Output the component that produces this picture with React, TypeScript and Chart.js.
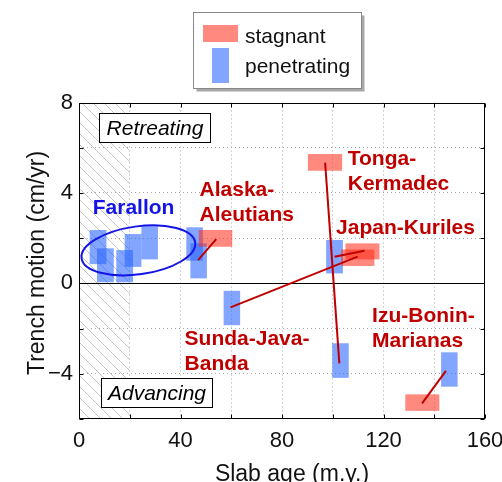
import React, { useEffect, useRef } from "react";
import { Chart, registerables } from "chart.js";

Chart.register(...registerables);

const FONT = '"Liberation Sans", Arial, Helvetica, sans-serif';

// Axis ticks
const xGridValues = [0, 20, 40, 60, 80, 100, 120, 140, 160];
const xLabeledTicks = [0, 40, 80, 120, 160];
const yGridValues = [-6, -4, -2, 0, 2, 4, 6, 8];
const yLabeledTicks = [-4, 0, 4, 8];

// Penetrating slabs (blue): slab age range (m.y.) and trench motion range (cm/yr)
const penetratingAgeMin = [4.2, 7.1, 14.7, 18.0, 24.6, 42.3, 43.9, 57.0, 97.4, 99.8, 142.7];
const penetratingAgeMax = [10.8, 13.7, 21.3, 24.6, 31.1, 48.8, 50.4, 63.5, 104.0, 106.3, 149.2];
const penetratingMotionMin = [0.85, 0.05, 0.05, 0.73, 1.06, 1.0, 0.22, -1.85, 0.44, -4.18, -4.57];
const penetratingMotionMax = [2.36, 1.55, 1.47, 2.18, 2.53, 2.48, 1.77, -0.33, 1.92, -2.65, -3.05];

// Stagnant slabs (red)
const stagnantAgeMin = [47.2, 90.2, 105.0, 103.3, 128.6];
const stagnantAgeMax = [60.4, 103.7, 118.4, 116.4, 142.0];
const stagnantMotionMin = [1.62, 4.98, 1.06, 0.77, -5.64];
const stagnantMotionMax = [2.36, 5.72, 1.77, 1.5, -4.91];

// Links between penetrating and stagnant states of the same trench
const linkAgeFrom = [46.9, 97.0, 100.7, 59.7, 135.2];
const linkMotionFrom = [1.03, 5.34, 1.18, -1.06, -5.31];
const linkAgeTo = [54.1, 102.6, 112.5, 109.8, 144.6];
const linkMotionTo = [1.96, -3.54, 1.44, 1.18, -3.87];

// Region labels (anchor = first line baseline, in data units)
const regionNames = [
  ["Alaska-", "Aleutians"],
  ["Tonga-", "Kermadec"],
  ["Japan-Kuriles"],
  ["Sunda-Java-", "Banda"],
  ["Izu-Bonin-", "Marianas"],
];
const regionAge = [47.5, 105.9, 101.3, 41.6, 115.5];
const regionMotion = [3.86, 5.23, 2.18, -2.73, -1.7];

const farallonName = "Farallon";
const farallonAge = 5.4;
const farallonMotion = 3.07;
const farallonEllipseCenter = [23.4, 1.46];
const farallonEllipseRadii = [22.6, 1.06];

// Regime boxes
const regimeNames = ["Retreating", "Advancing"];
const regimeAgeMin = [7.8, 8.5];
const regimeAgeMax = [51.7, 52.5];
const regimeMotionMin = [6.24, -5.49];
const regimeMotionMax = [7.52, -4.2];

const hatchAgeMax = 20;

const BLUE_FILL = "rgba(40,100,255,0.58)";
const RED_FILL = "rgba(255,40,20,0.55)";
const DARK_RED = "#C00000";
const FARALLON_BLUE = "#1414E6";

const fmt = (v: number) => (v < 0 ? "\u2212" + Math.abs(v) : String(v));

export default function App() {
  const ref = useRef<HTMLCanvasElement>(null);

  useEffect(() => {
    document.body.style.margin = "0";
    const canvas = ref.current!;

    const drawPlugin = {
      id: "slabDecor",
      beforeDatasetsDraw(chart: any) {
        const { ctx, chartArea, scales } = chart;
        const xs = scales.x;
        const ys = scales.y;
        // hatch
        ctx.save();
        const hx0 = xs.getPixelForValue(0);
        const hx1 = xs.getPixelForValue(hatchAgeMax);
        ctx.beginPath();
        ctx.rect(hx0, chartArea.top, hx1 - hx0, chartArea.bottom - chartArea.top);
        ctx.clip();
        ctx.strokeStyle = "#c4c4c4";
        ctx.lineWidth = 1;
        ctx.beginPath();
        const h = chartArea.bottom - chartArea.top;
        for (let s = hx0 - h; s < hx1 + 12; s += 11) {
          ctx.moveTo(s, chartArea.top);
          ctx.lineTo(s + h, chartArea.bottom);
        }
        ctx.stroke();
        ctx.restore();

        // zero line
        ctx.save();
        ctx.strokeStyle = "#000";
        ctx.lineWidth = 1;
        const y0 = Math.round(ys.getPixelForValue(0)) + 0.5;
        ctx.beginPath();
        ctx.moveTo(chartArea.left, y0);
        ctx.lineTo(chartArea.right, y0);
        ctx.stroke();
        ctx.restore();

        // rects
        ctx.save();
        ctx.fillStyle = BLUE_FILL;
        for (let i = 0; i < penetratingAgeMin.length; i++) {
          const x0 = xs.getPixelForValue(penetratingAgeMin[i]);
          const x1 = xs.getPixelForValue(penetratingAgeMax[i]);
          const y1 = ys.getPixelForValue(penetratingMotionMax[i]);
          const y2 = ys.getPixelForValue(penetratingMotionMin[i]);
          ctx.fillRect(x0, y1, x1 - x0, y2 - y1);
        }
        ctx.fillStyle = RED_FILL;
        for (let i = 0; i < stagnantAgeMin.length; i++) {
          const x0 = xs.getPixelForValue(stagnantAgeMin[i]);
          const x1 = xs.getPixelForValue(stagnantAgeMax[i]);
          const y1 = ys.getPixelForValue(stagnantMotionMax[i]);
          const y2 = ys.getPixelForValue(stagnantMotionMin[i]);
          ctx.fillRect(x0, y1, x1 - x0, y2 - y1);
        }
        ctx.restore();

        // Farallon ellipse
        ctx.save();
        const cx = xs.getPixelForValue(farallonEllipseCenter[0]);
        const cy = ys.getPixelForValue(farallonEllipseCenter[1]);
        const rx = xs.getPixelForValue(farallonEllipseCenter[0] + farallonEllipseRadii[0]) - cx;
        const ry = cy - ys.getPixelForValue(farallonEllipseCenter[1] + farallonEllipseRadii[1]);
        ctx.strokeStyle = FARALLON_BLUE;
        ctx.lineWidth = 2;
        ctx.beginPath();
        ctx.ellipse(cx, cy, rx, ry, (-8 * Math.PI) / 180, 0, Math.PI * 2);
        ctx.stroke();
        ctx.restore();
      },
      afterDatasetsDraw(chart: any) {
        const { ctx, scales } = chart;
        const xs = scales.x;
        const ys = scales.y;
        ctx.save();
        ctx.textBaseline = "alphabetic";
        ctx.textAlign = "left";
        ctx.font = `bold 21px ${FONT}`;
        ctx.fillStyle = DARK_RED;
        for (let i = 0; i < regionNames.length; i++) {
          const x = xs.getPixelForValue(regionAge[i]);
          const y = ys.getPixelForValue(regionMotion[i]);
          regionNames[i].forEach((t, k) => ctx.fillText(t, x, y + k * 25));
        }
        ctx.fillStyle = FARALLON_BLUE;
        ctx.fillText(farallonName, xs.getPixelForValue(farallonAge), ys.getPixelForValue(farallonMotion));

        // regime boxes
        ctx.font = `italic 21px ${FONT}`;
        ctx.textAlign = "center";
        ctx.textBaseline = "middle";
        for (let i = 0; i < regimeNames.length; i++) {
          const x0 = Math.round(xs.getPixelForValue(regimeAgeMin[i])) + 0.5;
          const x1 = Math.round(xs.getPixelForValue(regimeAgeMax[i])) + 0.5;
          const y0 = Math.round(ys.getPixelForValue(regimeMotionMax[i])) + 0.5;
          const y1 = Math.round(ys.getPixelForValue(regimeMotionMin[i])) + 0.5;
          ctx.fillStyle = "#fff";
          ctx.fillRect(x0, y0, x1 - x0, y1 - y0);
          ctx.strokeStyle = "#000";
          ctx.lineWidth = 1;
          ctx.strokeRect(x0, y0, x1 - x0, y1 - y0);
          ctx.fillStyle = "#000";
          ctx.fillText(regimeNames[i], (x0 + x1) / 2, (y0 + y1) / 2 + 1);
        }
        ctx.restore();
      },
      afterDraw(chart: any) {
        const { ctx, chartArea, scales } = chart;
        const xs = scales.x;
        const ys = scales.y;
        const L = Math.round(chartArea.left) + 0.5;
        const R = Math.round(chartArea.right) - 0.5;
        const T = Math.round(chartArea.top) + 0.5;
        const B = Math.round(chartArea.bottom) - 0.5;
        ctx.save();
        ctx.strokeStyle = "#000";
        ctx.lineWidth = 1;
        ctx.strokeRect(L, T, R - L, B - T);
        ctx.beginPath();
        xGridValues.forEach((v) => {
          const x = Math.round(xs.getPixelForValue(v)) + 0.5;
          ctx.moveTo(x, B);
          ctx.lineTo(x, B - 4);
          ctx.moveTo(x, T);
          ctx.lineTo(x, T + 4);
        });
        yGridValues.forEach((v) => {
          const y = Math.round(ys.getPixelForValue(v)) + 0.5;
          ctx.moveTo(L, y);
          ctx.lineTo(L + 4, y);
          ctx.moveTo(R, y);
          ctx.lineTo(R - 4, y);
        });
        ctx.stroke();

        // axis titles
        ctx.fillStyle = "#111";
        ctx.font = `23px ${FONT}`;
        ctx.textAlign = "center";
        ctx.textBaseline = "alphabetic";
        ctx.fillText("Slab age (m.y.)", 292, 481);
        ctx.save();
        ctx.translate(44, 263);
        ctx.rotate(-Math.PI / 2);
        ctx.fillText("Trench motion (cm/yr)", 0, 0);
        ctx.restore();

        // legend
        const lx0 = 193.5, ly0 = 12.5, lx1 = 361.5, ly1 = 88.5;
        ctx.fillStyle = "#a8a8a8";
        ctx.fillRect(lx0 + 3, ly0 + 3, lx1 - lx0, ly1 - ly0);
        ctx.fillStyle = "#fff";
        ctx.fillRect(lx0, ly0, lx1 - lx0, ly1 - ly0);
        ctx.strokeStyle = "#888";
        ctx.strokeRect(lx0, ly0, lx1 - lx0, ly1 - ly0);
        ctx.fillStyle = RED_FILL;
        ctx.fillRect(203, 25, 35, 17);
        ctx.fillStyle = BLUE_FILL;
        ctx.fillRect(212, 48, 17, 35);
        ctx.fillStyle = "#111";
        ctx.font = `21px ${FONT}`;
        ctx.textAlign = "left";
        ctx.fillText("stagnant", 245, 43);
        ctx.fillText("penetrating", 245, 73);
        ctx.restore();
      },
    };

    const chart = new Chart(canvas, {
      type: "line",
      data: {
        datasets: linkAgeFrom.map((_, i) => ({
          data: [
            { x: linkAgeFrom[i], y: linkMotionFrom[i] },
            { x: linkAgeTo[i], y: linkMotionTo[i] },
          ],
          borderColor: DARK_RED,
          borderWidth: 2,
          pointRadius: 0,
          fill: false,
        })),
      },
      options: {
        responsive: false,
        animation: false,
        events: [],
        layout: { padding: { top: 102.5, right: 17, left: 0, bottom: 0 } },
        plugins: { legend: { display: false }, tooltip: { enabled: false } },
        scales: {
          x: {
            type: "linear",
            min: 0,
            max: 160,
            afterBuildTicks: (s: any) => {
              s.ticks = xGridValues.map((v) => ({ value: v }));
            },
            afterFit: (s: any) => {
              s.height = 63;
              s.paddingLeft = 0;
              s.paddingRight = 0;
            },
            ticks: {
              autoSkip: false,
              maxRotation: 0,
              padding: 9,
              color: "#111",
              font: { family: FONT, size: 22 },
              callback: (v: any) => (xLabeledTicks.includes(Number(v)) ? fmt(Number(v)) : ""),
            },
            grid: {
              drawTicks: false,
              lineWidth: 1,
              color: (c: any) =>
                c.tick && (c.tick.value === 0 || c.tick.value === 160) ? "rgba(0,0,0,0)" : "#a8a8a8",
            },
            border: { display: false, dash: [1, 3] },
          },
          y: {
            type: "linear",
            min: -6,
            max: 8,
            afterBuildTicks: (s: any) => {
              s.ticks = yGridValues.map((v) => ({ value: v }));
            },
            afterFit: (s: any) => {
              s.width = 79;
              s.paddingTop = 0;
              s.paddingBottom = 0;
            },
            ticks: {
              autoSkip: false,
              padding: 6,
              color: "#111",
              font: { family: FONT, size: 22 },
              callback: (v: any) => (yLabeledTicks.includes(Number(v)) ? fmt(Number(v)) : ""),
            },
            grid: {
              drawTicks: false,
              lineWidth: 1,
              color: (c: any) =>
                c.tick && (c.tick.value === 0 || c.tick.value === -6 || c.tick.value === 8)
                  ? "rgba(0,0,0,0)"
                  : "#a8a8a8",
            },
            border: { display: false, dash: [1, 3] },
          },
        },
      },
      plugins: [drawPlugin],
    } as any);

    return () => chart.destroy();
  }, []);

  return <canvas ref={ref} width={502} height={482} style={{ display: "block" }} />;
}
